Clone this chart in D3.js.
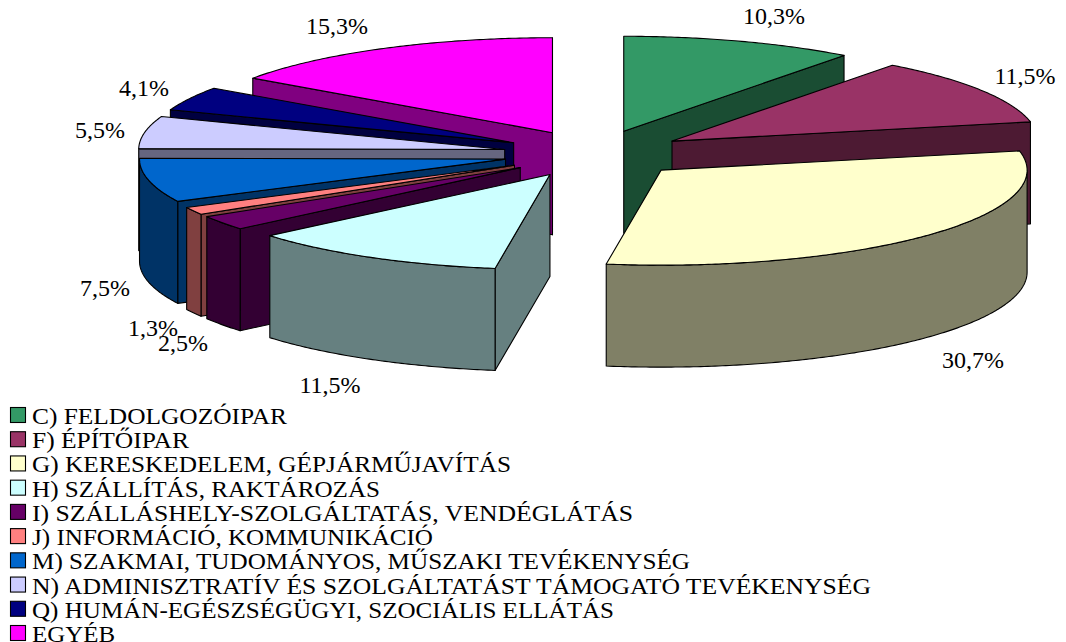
<!DOCTYPE html>
<html lang="hu">
<head>
<meta charset="utf-8">
<script src="https://cdnjs.cloudflare.com/ajax/libs/d3/7.8.5/d3.min.js"></script>
<style>
html,body{margin:0;padding:0;background:#fff;overflow:hidden}
svg{display:block}
text{font-family:"Liberation Serif","Times New Roman",serif;fill:#000}
</style>
</head>
<body>
<svg id="chart" width="1066" height="642"></svg>
<script>
const categories = ["C) FELDOLGOZÓIPAR","F) ÉPÍTŐIPAR","G) KERESKEDELEM, GÉPJÁRMŰJAVÍTÁS","H) SZÁLLÍTÁS, RAKTÁROZÁS","I) SZÁLLÁSHELY-SZOLGÁLTATÁS, VENDÉGLÁTÁS","J) INFORMÁCIÓ, KOMMUNIKÁCIÓ","M) SZAKMAI, TUDOMÁNYOS, MŰSZAKI TEVÉKENYSÉG","N) ADMINISZTRATÍV ÉS SZOLGÁLTATÁST TÁMOGATÓ TEVÉKENYSÉG","Q) HUMÁN-EGÉSZSÉGÜGYI, SZOCIÁLIS ELLÁTÁS","EGYÉB"];
const values = [10.3,11.5,30.7,11.5,2.5,1.3,7.5,5.5,4.1,15.3];
const colors = ["#339966","#993366","#FFFFCC","#CCFFFF","#660066","#FF8080","#0066CC","#CCCCFF","#000080","#FF00FF"];
const sideColors = ["#1A4D33","#4D1A33","#808066","#668080","#330033","#804040","#003366","#666680","#000040","#800080"];

// layout (not data)
const labelCenters = [[774,16],[1025,76],[973,360],[330,385],[183,343],[153,328],[105,288],[100,130],[144,88],[337,26]];
const legendTextWidths = [255,157,479,348,601,401,658,839,582,83];
const drawOrder = [0,1,2,9,8,7,6,5,4,3];
const explode = 0.25, depth = 102;
const fontSize = 24;

const svg = d3.select("#chart");
const x = d3.scaleLinear().domain([-1,1]).range([594.7-366,594.7+366]);
const y = d3.scaleLinear().domain([-1,1]).range([153.8-95,153.8+95]);
const dy = depth;
const line = d3.line().x(d=>d[0]).y(d=>d[1]).curve(d3.curveLinear);

const arcs = d3.pie().sort(null).value(d=>d)(values);
const TAU = Math.PI*2;

function geometry(a){
  const mid = (a.startAngle+a.endAngle)/2;
  const ox = explode*Math.sin(mid), oy = -explode*Math.cos(mid);
  const pt = t => [x(ox+Math.sin(t)), y(oy-Math.cos(t))];
  const apex = [x(ox), y(oy)];
  const sample = (t0,t1) => {
    const n = Math.max(2, Math.ceil(Math.abs(t1-t0)/0.01));
    return d3.range(n+1).map(i=>pt(t0+(t1-t0)*i/n));
  };
  return {apex, pt, sample};
}
const down = p => [p[0], p[1]+dy];

const g = svg.append("g").attr("stroke","#000").attr("stroke-width",1.1).attr("stroke-linejoin","round");

drawOrder.forEach(i=>{
  const a = arcs[i], s=a.startAngle, e=a.endAngle, geo=geometry(a);
  const side = sideColors[i];
  const wall = pts => g.append("path").attr("d",line(pts)+"Z").attr("fill",side);
  if(Math.sin(s) < 0){
    const p=geo.pt(s);
    wall([geo.apex,p,down(p),down(geo.apex)]);
  }
  if(Math.sin(e) > 0){
    const p=geo.pt(e);
    wall([geo.apex,p,down(p),down(geo.apex)]);
  }
  const r0=Math.max(s,TAU/4), r1=Math.min(e,TAU*3/4);
  if(r1>r0){
    const top=geo.sample(r0,r1);
    wall(top.concat(top.slice().reverse().map(down)));
  }
  g.append("path").attr("d",line([geo.apex].concat(geo.sample(s,e)))+"Z").attr("fill",colors[i]);
});

svg.append("g").selectAll("text").data(values).join("text")
  .attr("x",(d,i)=>labelCenters[i][0]).attr("y",(d,i)=>labelCenters[i][1]+8)
  .attr("text-anchor","middle").attr("font-size",fontSize)
  .text(d=>d3.format(".1f")(d).replace(".",",")+"%");

const ly = d3.scalePoint().domain(d3.range(categories.length)).range([407,625]);
const leg = svg.append("g").selectAll("g").data(categories).join("g")
  .attr("transform",(d,i)=>`translate(0,${ly(i)})`);
leg.append("rect").attr("x",10.5).attr("y",0.5).attr("width",15).attr("height",15)
  .attr("fill",(d,i)=>colors[i]).attr("stroke","#000").attr("stroke-width",1.1);
leg.append("text").attr("x",32).attr("y",17).attr("font-size",fontSize)
  .attr("textLength",(d,i)=>legendTextWidths[i]).attr("lengthAdjust","spacingAndGlyphs").text(d=>d);
</script>
</body>
</html>
